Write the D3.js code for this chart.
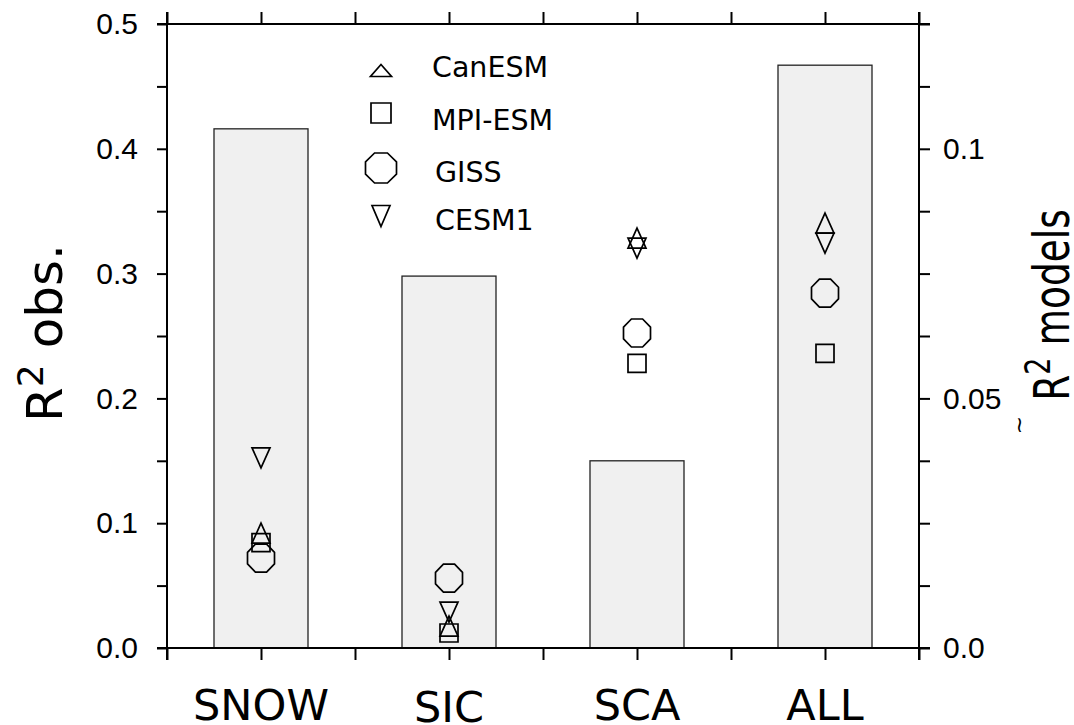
<!DOCTYPE html>
<html>
<head>
<meta charset="utf-8">
<script src="https://cdn.jsdelivr.net/npm/d3@7"></script>
<style>
  body { margin: 0; background: #fff; }
  svg { display: block; }
</style>
</head>
<body>
<svg id="chart"></svg>
<script>
// categories and values
let categories = ["SNOW", "SIC", "SCA", "ALL"];
let obsR2 = [0.416, 0.298, 0.150, 0.467];          // bars, left axis
let canESM = [0.0230, 0.0044, 0.0821, 0.0851];     // right axis
let mpiESM = [0.0211, 0.0030, 0.0570, 0.0590];
let giss = [0.0180, 0.0140, 0.0631, 0.0711];
let cesm1 = [0.0381, 0.0072, 0.0801, 0.0811];
let modelNames = ["CanESM", "MPI-ESM", "GISS", "CESM1"];
let leftTicks = d3.range(0, 0.5001, 0.05);
let rightTicks = d3.range(0, 0.12501, 0.0125);
let rightLabels = { "0": "0.0", "0.05": "0.05", "0.1": "0.1" };

let width = 1074, height = 725;
let svg = d3.select("#chart").attr("width", width).attr("height", height);

let plotL = 167, plotR = 919, plotT = 24, plotB = 648;

let x = d3.scaleLinear().domain([0, 8]).range([plotL, plotR]);
let yL = d3.scaleLinear().domain([0, 0.5]).range([plotB, plotT]);
let yR = d3.scaleLinear().domain([0, 0.125]).range([plotB, plotT]);
let catX = i => x(i * 2 + 1);

// marker shapes
function tri(w, h, up) {
  let s = up ? 1 : -1;
  return `M0,${-s * h / 2}L${w / 2},${s * h / 2}L${-w / 2},${s * h / 2}Z`;
}
function sq(w) {
  return `M${-w / 2},${-w / 2}h${w}v${w}h${-w}Z`;
}
function oct(w, h) {
  let a = w / 2, b = h / 2, c = a * 0.414, d = b * 0.414;
  return `M${-c},${-b}L${c},${-b}L${a},${-d}L${a},${d}L${c},${b}L${-c},${b}L${-a},${d}L${-a},${-d}Z`;
}

// bars
svg.append("g").selectAll("rect").data(obsR2).enter().append("rect")
  .attr("x", (d, i) => x(i * 2 + 0.5))
  .attr("y", d => yL(d))
  .attr("width", x(1) - x(0))
  .attr("height", d => plotB - yL(d))
  .attr("fill", "#f0f0f0")
  .attr("stroke", "#222")
  .attr("stroke-width", 1.3);

// model markers
let series = [
  { vals: canESM, path: tri(18, 20, true) },
  { vals: mpiESM, path: sq(18) },
  { vals: giss, path: oct(27, 28) },
  { vals: cesm1, path: tri(18, 20, false) }
];
series.forEach(s => {
  svg.append("g").selectAll("path").data(s.vals).enter().append("path")
    .attr("d", s.path)
    .attr("transform", (d, i) => `translate(${catX(i)},${yR(d)})`)
    .attr("fill", "none")
    .attr("stroke", "#000")
    .attr("stroke-width", 1.7);
});

// axes
let axisStyle = g => {
  g.select(".domain").remove();
  g.selectAll(".tick line").attr("stroke", "#000").attr("stroke-width", 2);
  g.selectAll(".tick text").attr("fill", "#000")
    .style("font-family", "'Liberation Sans', Arial, sans-serif")
    .style("font-size", "30px");
};

svg.append("g").attr("transform", `translate(${plotL},0)`)
  .call(d3.axisLeft(yL).tickValues(leftTicks).tickSize(10).tickPadding(19)
    .tickFormat(d => Math.abs(d * 10 - Math.round(d * 10)) < 1e-6 ? d.toFixed(1) : ""))
  .call(axisStyle);

svg.append("g").attr("transform", `translate(${plotR},0)`)
  .call(d3.axisRight(yR).tickValues(rightTicks).tickSize(11).tickPadding(13)
    .tickFormat(d => rightLabels[String(+d.toFixed(4))] || ""))
  .call(axisStyle);

svg.append("g").attr("transform", `translate(0,${plotB})`)
  .call(d3.axisBottom(x).ticks(8).tickSize(12).tickFormat(""))
  .call(axisStyle);

svg.append("g").attr("transform", `translate(0,${plotT})`)
  .call(d3.axisTop(x).ticks(8).tickSize(12).tickFormat(""))
  .call(axisStyle);

// frame
let frame = svg.append("g").attr("stroke", "#000").attr("stroke-width", 2);
frame.append("line").attr("x1", plotL).attr("x2", plotL).attr("y1", plotT - 12).attr("y2", plotB + 12);
frame.append("line").attr("x1", plotR).attr("x2", plotR).attr("y1", plotT - 12).attr("y2", plotB + 12);
frame.append("line").attr("x1", plotL - 10).attr("x2", plotR + 11).attr("y1", plotT).attr("y2", plotT);
frame.append("line").attr("x1", plotL - 10).attr("x2", plotR + 11).attr("y1", plotB).attr("y2", plotB);

// category labels
svg.append("g").selectAll("text").data(categories).enter().append("text")
  .attr("x", (d, i) => catX(i))
  .attr("y", (d, i) => i === 1 ? 722 : 720)
  .attr("text-anchor", "middle")
  .style("font-family", "'DejaVu Sans', sans-serif")
  .style("font-size", "43px")
  .text(d => d);

// legend
let legendMarks = [tri(21, 12, true), sq(20), oct(31, 30), tri(18, 21, false)];
let legendMarkY = [70.5, 113, 168, 216];
let legendTextX = [432, 432, 435, 435];
let legendTextY = [77, 130, 182, 230];
let legend = svg.append("g");
legend.selectAll("path").data(legendMarks).enter().append("path")
  .attr("d", d => d)
  .attr("transform", (d, i) => `translate(381,${legendMarkY[i]})`)
  .attr("fill", "none").attr("stroke", "#000").attr("stroke-width", 1.7);
legend.selectAll("text").data(modelNames).enter().append("text")
  .attr("x", (d, i) => legendTextX[i])
  .attr("y", (d, i) => legendTextY[i])
  .style("font-family", "'DejaVu Sans', sans-serif")
  .style("font-size", "28.5px")
  .text(d => d);

// axis titles
let lt = svg.append("text")
  .attr("transform", "translate(62,333) rotate(-90)")
  .attr("text-anchor", "middle")
  .style("font-family", "'DejaVu Sans', sans-serif")
  .style("font-size", "50px");
lt.append("tspan").text("R");
lt.append("tspan").attr("dy", -19).style("font-size", "36px").text("2");
lt.append("tspan").attr("dy", 19).text(" obs.");

let rt = svg.append("text")
  .attr("transform", "translate(1069,305) rotate(-90) scale(0.75,1)")
  .attr("text-anchor", "middle")
  .style("font-family", "'DejaVu Sans', sans-serif")
  .style("font-size", "50px");
rt.append("tspan").text("R");
rt.append("tspan").attr("dy", -19).style("font-size", "36px").text("2");
rt.append("tspan").attr("dy", 19).text(" models");

svg.append("text")
  .attr("transform", "translate(1026,425) rotate(-90)")
  .attr("text-anchor", "middle")
  .style("font-family", "'DejaVu Sans', sans-serif")
  .style("font-size", "22px")
  .text("~");
</script>
</body>
</html>
